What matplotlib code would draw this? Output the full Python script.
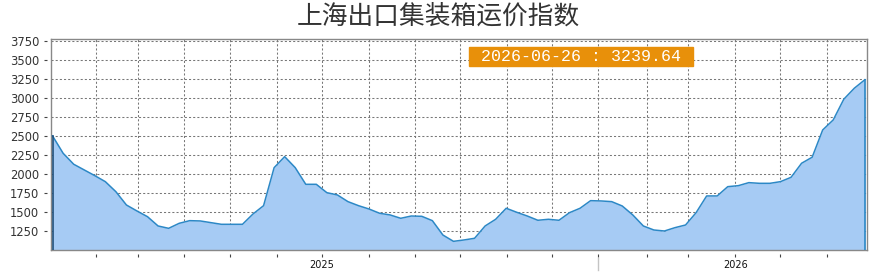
import matplotlib
matplotlib.use("Agg")
import matplotlib.pyplot as plt
import matplotlib.transforms as mtransforms
import numpy as np

title = "上海出口集装箱运价指数"
values = [2500, 2272, 2128, 2053, 1978, 1899, 1767, 1592, 1513, 1438,
          1316, 1285, 1351, 1386, 1382, 1360, 1338, 1338, 1338, 1474,
          1583, 2083, 2228, 2083, 1864, 1864, 1754, 1724, 1636, 1583,
          1539, 1483, 1461, 1417, 1447, 1443, 1386, 1197, 1114, 1132,
          1154, 1316, 1404, 1549, 1496, 1447, 1391, 1404, 1391, 1491,
          1549, 1649, 1645, 1636, 1579, 1461, 1316, 1263, 1250, 1294,
          1329, 1491, 1711, 1711, 1833, 1846, 1886, 1877, 1877, 1899,
          1956, 2141, 2220, 2579, 2711, 2983, 3128, 3239.64]
last_date = "2026-06-26"
x_tick_positions = [4.10, 8.08, 12.43, 16.79, 21.24, 25.50, 29.95, 34.40, 38.66,
                    43.11, 47.37, 51.73, 56.37, 60.25, 64.71, 68.97, 73.42]
x_tick_labels = ["", "", "", "", "", "2025", "", "", "", "", "", "", "", "", "2026", "", ""]
marker_tick_index = 11
y_ticks = [1250, 1500, 1750, 2000, 2250, 2500, 2750, 3000, 3250, 3500, 3750]

plt.rcParams['font.family'] = ['DejaVu Sans']

x = np.arange(len(values))
fig = plt.figure(figsize=(8.79, 2.77), dpi=100)
ax = fig.add_axes([51/879, 1-250/277, (867-51)/879, (250-39)/277])

line_c = '#2c88c6'
fill_c = '#a6cbf4'
ax.fill_between(x, values, 1000, color=fill_c, linewidth=0, zorder=2)
ax.plot(x, values, color=line_c, linewidth=1.1, zorder=3)
ax.plot([x[0], x[0]], [1000, values[0]], color='#1f4f7a', linewidth=1.2, zorder=3)
ax.plot([x[-1], x[-1]], [1000, values[-1]], color=line_c, linewidth=1.2, zorder=3)

ax.set_xlim(-0.15, len(values) - 1 + 0.2)
ax.set_ylim(1000, 3775)

ax.set_xticks(x_tick_positions)
ax.set_xticklabels([])
ax.set_yticks(y_ticks)
ax.set_yticklabels([])
ax.tick_params(length=0)
ax.grid(True, color='#777777', linestyle=(0, (2, 2)), linewidth=0.75, zorder=1)
ax.set_axisbelow(True)
for s in ax.spines.values():
    s.set_color('#888888')
    s.set_linewidth(1.0)

secx = ax.secondary_xaxis(-0.019)
secx.set_xticks(x_tick_positions)
secx.set_xticklabels(x_tick_labels)
secx.spines['bottom'].set_visible(False)
secx.tick_params(length=2.5, width=0.8, color='#444444', labelsize=7, pad=2, labelcolor='#111111')

secy = ax.secondary_yaxis(-0.005)
secy.set_yticks(y_ticks)
secy.set_yticklabels([str(v) for v in y_ticks])
secy.spines['left'].set_visible(False)
secy.tick_params(length=2.5, width=0.8, color='#444444', labelsize=8.3, pad=3, labelcolor='#333333')

trans = mtransforms.blended_transform_factory(ax.transData, ax.transAxes)
mx = x_tick_positions[marker_tick_index]
ax.plot([mx, mx], [-0.04, -0.093], transform=trans, clip_on=False, color='#c4c4c4', linewidth=1.0)

fig.text(0.499, 0.94, title, ha='center', va='center', fontsize=18.5,
         family=['Noto Sans CJK SC', 'DejaVu Sans'], color='#333333')

ax.text(0.6495, 0.9175, f" {last_date} : {values[-1]:.2f} ", transform=ax.transAxes,
        ha='center', va='center', fontsize=12, family='Liberation Mono', color='white',
        zorder=5,
        bbox=dict(boxstyle='square,pad=0.12', facecolor='#e8900a', edgecolor='#e8900a'))

fig.savefig('out.png', dpi=100)
